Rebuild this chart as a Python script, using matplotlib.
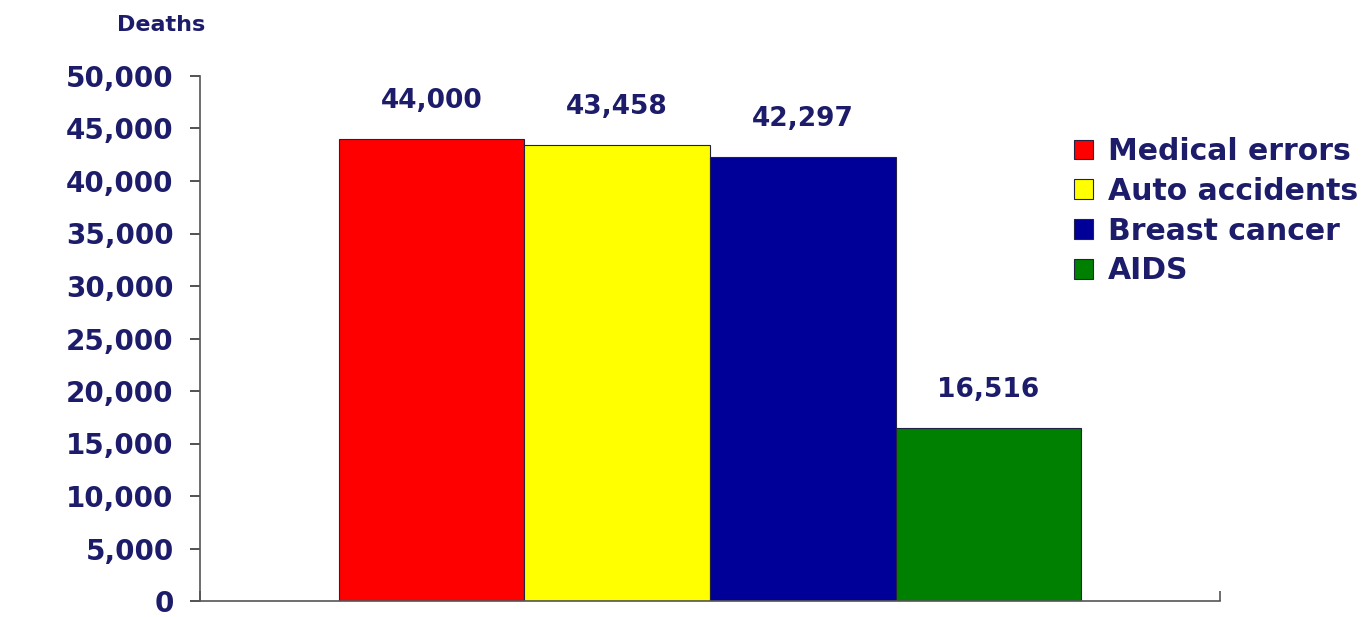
import matplotlib.pyplot as plt
import numpy as np

# данные с картинки
categories = ['Medical errors', 'Auto accidents', 'Breast cancer', 'AIDS']
deaths = [44000, 43458, 42297, 16516]
colors = ['#ff0000', '#ffff00', '#000099', '#008000']
yticks = np.arange(0, 50001, 5000)

navy = '#1c1c6a'
plt.rcParams['font.family'] = ['DejaVu Sans']
plt.rcParams['font.weight'] = 'bold'

fig = plt.figure(figsize=(13.71, 6.17), dpi=100)
ax = fig.add_axes([200 / 1371, 1 - 601 / 617, 1020 / 1371, (601 - 76) / 617])

# четыре столбика в одной категории
width = 0.182
offsets = (np.arange(len(deaths)) - 1.5) * width
for off, val, col, name in zip(offsets, deaths, colors, categories):
    ax.bar(off, val, width=width, color=col, edgecolor='#222244', linewidth=0.8, label=name)
    ax.annotate(f'{val:,}', (off, val), xytext=(0, 18), textcoords='offset points',
                ha='center', va='bottom', fontsize=19, color=navy)

ax.set_xlim(-0.5, 0.5)
ax.set_ylim(0, 50000)
ax.set_yticks(yticks)
ax.set_yticklabels([f'{t:,}' for t in yticks], fontsize=20, color=navy)
ax.tick_params(axis='y', direction='out', length=7, width=1.2, color='#333333', pad=12)
ax.set_xticks([-0.5, 0.5])
ax.set_xticklabels([])
ax.tick_params(axis='x', direction='in', length=7, width=1.2, color='#555555')

for s in ['top', 'right']:
    ax.spines[s].set_visible(False)
ax.spines['left'].set_color('#555555')
ax.spines['bottom'].set_color('#555555')
ax.spines['left'].set_linewidth(1.2)
ax.spines['bottom'].set_linewidth(1.2)

fig.text(205 / 1371, 1 - 25 / 617, 'Deaths', ha='right', va='center', fontsize=16, color=navy)

leg = ax.legend(loc='upper left', bbox_to_anchor=(1074 / 1371, 1 - 137 / 617),
                bbox_transform=fig.transFigure, frameon=False, fontsize=21.5,
                handlelength=0.65, handleheight=0.65, handletextpad=0.5, labelspacing=0.36,
                borderaxespad=0, borderpad=0)
for t in leg.get_texts():
    t.set_color(navy)

fig.savefig('out.png', dpi=100)
